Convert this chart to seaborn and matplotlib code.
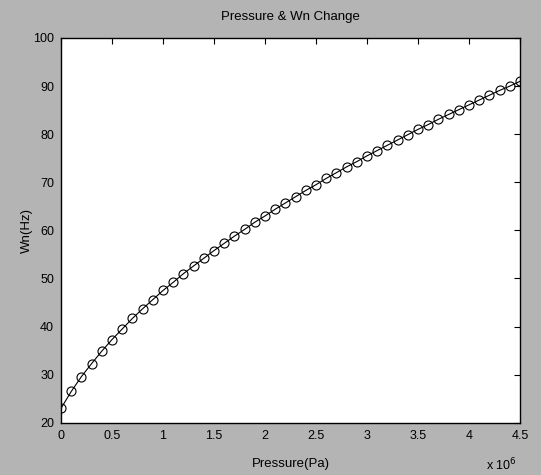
import matplotlib
matplotlib.use("Agg")
import matplotlib.pyplot as plt
import seaborn as sns
import pandas as pd
from matplotlib.ticker import FuncFormatter

# Data
pressure_mpa = [0.0, 0.1, 0.2, 0.3, 0.4, 0.5, 0.6, 0.7, 0.8, 0.9,
                1.0, 1.1, 1.2, 1.3, 1.4, 1.5, 1.6, 1.7, 1.8, 1.9,
                2.0, 2.1, 2.2, 2.3, 2.4, 2.5, 2.6, 2.7, 2.8, 2.9,
                3.0, 3.1, 3.2, 3.3, 3.4, 3.5, 3.6, 3.7, 3.8, 3.9,
                4.0, 4.1, 4.2, 4.3, 4.4, 4.5]
wn_hz = [23.0, 26.5, 29.6, 32.3, 34.9, 37.3, 39.5, 41.7, 43.7, 45.6,
         47.5, 49.2, 51.0, 52.6, 54.2, 55.8, 57.3, 58.8, 60.2, 61.7,
         63.0, 64.4, 65.7, 67.0, 68.3, 69.5, 70.8, 72.0, 73.2, 74.3,
         75.5, 76.6, 77.7, 78.8, 79.9, 81.0, 82.0, 83.1, 84.1, 85.1,
         86.1, 87.1, 88.1, 89.1, 90.0, 91.0]
x_ticks = [0, 0.5, 1, 1.5, 2, 2.5, 3, 3.5, 4, 4.5]
y_ticks = [20, 30, 40, 50, 60, 70, 80, 90, 100]

df = pd.DataFrame({"Pressure": [p * 1e6 for p in pressure_mpa], "Wn": wn_hz})

sns.set_theme(style="white")
plt.rcParams['font.family'] = ['Liberation Sans', 'DejaVu Sans']

bg = "#b4b4b4"
fig = plt.figure(figsize=(5.41, 4.75), dpi=100, facecolor=bg)
ax = fig.add_axes([0.1128, 0.110, 0.8484, 0.810])
ax.set_facecolor("white")

sns.lineplot(data=df, x="Pressure", y="Wn", ax=ax, color="black", lw=0.8,
             marker="o", markersize=6.5, markerfacecolor="none",
             markeredgecolor="black", markeredgewidth=0.8)

ax.set_xlim(0, 4.5e6)
ax.set_ylim(20, 100)
ax.set_xticks([t * 1e6 for t in x_ticks])
ax.xaxis.set_major_formatter(FuncFormatter(lambda v, p: f"{v/1e6:g}"))
ax.set_yticks(y_ticks)

for s in ax.spines.values():
    s.set_color("black")
    s.set_linewidth(1.0)
    s.set_visible(True)

ax.tick_params(direction="in", length=4, width=0.8, colors="black",
               top=True, right=True, labelsize=9)
ax.tick_params(axis="x", pad=5)
ax.tick_params(axis="y", pad=5)
for lab in ax.get_xticklabels() + ax.get_yticklabels():
    lab.set_color("black")

ax.set_title("Pressure & Wn Change", fontsize=9.5, color="black", pad=13)
ax.set_xlabel("Pressure(Pa)", fontsize=9.5, color="black", labelpad=12)
ax.set_ylabel("Wn(Hz)", fontsize=9.5, color="black", labelpad=0)
ax.text(0.993, -0.088, r"x 10$^6$", transform=ax.transAxes, ha="right",
        va="top", fontsize=9, color="black")

fig.savefig("out.png", dpi=100, facecolor=bg)
